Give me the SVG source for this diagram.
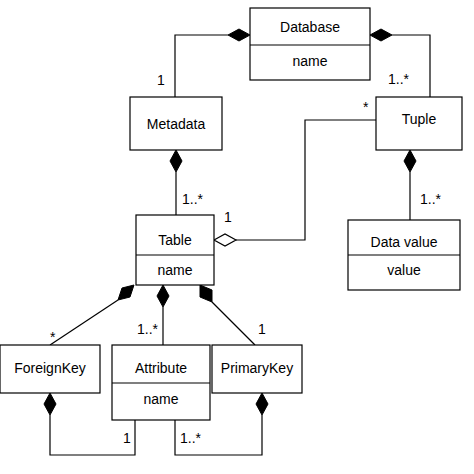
<svg xmlns="http://www.w3.org/2000/svg" width="474" height="474" viewBox="0 0 474 474">
<style>
.b{fill:#fff;stroke:#000;stroke-width:1.2}
.l{fill:none;stroke:#000;stroke-width:1.2}
.d{fill:#000;stroke:#000}
.h{fill:#fff;stroke:#000;stroke-width:1.2}
text{font-family:"Liberation Sans",Arial,sans-serif;font-size:14px;fill:#000}
.c{text-anchor:middle}
</style>
<rect width="474" height="474" fill="#fff"/>
<g id="connectors">
<polyline class="l" points="228,35 175,35 175,97"/>
<polygon class="d" points="250,35 239,29 228,35 239,41"/>
<polyline class="l" points="392,35 430,35 430,97"/>
<polygon class="d" points="370,35 381,29 392,35 381,41"/>
<line class="l" x1="176" y1="172" x2="176" y2="215"/>
<polygon class="d" points="176,150 170,161 176,172 182,161"/>
<polyline class="l" points="236,240 305,240 305,120 376,120"/>
<polygon class="h" points="214,240 225,234 236,240 225,246"/>
<line class="l" x1="410" y1="172" x2="410" y2="220"/>
<polygon class="d" points="410,150 404,161 410,172 416,161"/>
<line class="l" x1="118" y1="300" x2="50" y2="345"/>
<polygon class="d" points="134,285 122,288 118,300 130,297"/>
<line class="l" x1="163" y1="307" x2="163" y2="345"/>
<polygon class="d" points="163,285 157,296 163,307 169,296"/>
<line class="l" x1="212" y1="302" x2="255" y2="345"/>
<polygon class="d" points="200,285 200,297 212,302 212,290"/>
<polyline class="l" points="50,415 50,455 135,455 135,420"/>
<polygon class="d" points="50,393 44,404 50,415 56,404"/>
<polyline class="l" points="262,415 262,455 175,455 175,420"/>
<polygon class="d" points="262,393 256,404 262,415 268,404"/>
</g>
<g id="labels">
<text x="157" y="85">1</text>
<text x="388" y="84">1..*</text>
<text x="182" y="204">1..*</text>
<text x="363" y="112">*</text>
<text x="224" y="222">1</text>
<text x="420" y="204">1..*</text>
<text x="50" y="342">*</text>
<text x="137" y="334">1..*</text>
<text x="258" y="334">1</text>
<text x="123" y="443">1</text>
<text x="180" y="443">1..*</text>
</g>
<g id="Database"><rect class="b" x="250" y="8" width="120" height="72"/><line class="l" x1="250" y1="45" x2="370" y2="45"/><text class="c" x="310" y="32">Database</text><text class="c" x="310" y="66">name</text></g>
<g id="Metadata"><rect class="b" x="130" y="97" width="92" height="53"/><text class="c" x="176" y="129">Metadata</text></g>
<g id="Tuple"><rect class="b" x="376" y="97" width="86" height="53"/><text class="c" x="419" y="124">Tuple</text></g>
<g id="Table"><rect class="b" x="136" y="215" width="78" height="70"/><line class="l" x1="136" y1="255" x2="214" y2="255"/><text class="c" x="175" y="245">Table</text><text class="c" x="175" y="275">name</text></g>
<g id="DataValue"><rect class="b" x="348" y="220" width="112" height="70"/><line class="l" x1="348" y1="255" x2="460" y2="255"/><text class="c" x="404" y="247">Data value</text><text class="c" x="404" y="275">value</text></g>
<g id="ForeignKey"><rect class="b" x="0" y="345" width="100" height="48"/><text class="c" x="50" y="373">ForeignKey</text></g>
<g id="Attribute"><rect class="b" x="112" y="345" width="98" height="75"/><line class="l" x1="112" y1="383" x2="210" y2="383"/><text class="c" x="161" y="373">Attribute</text><text class="c" x="161" y="404">name</text></g>
<g id="PrimaryKey"><rect class="b" x="212" y="345" width="90" height="48"/><text class="c" x="257" y="373">PrimaryKey</text></g>
</svg>
